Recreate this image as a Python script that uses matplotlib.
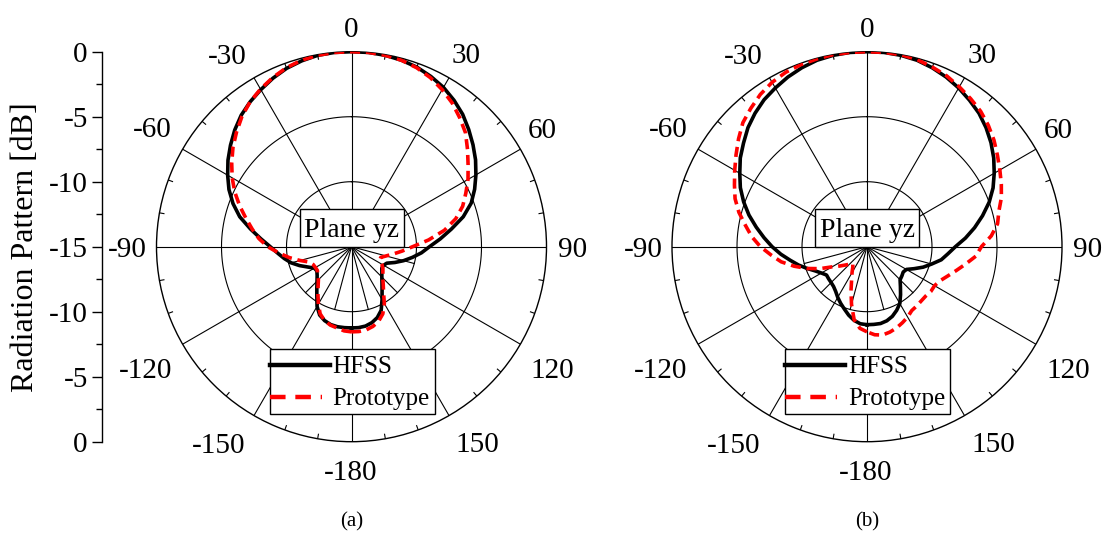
import numpy as np
import matplotlib.pyplot as plt
from matplotlib.patches import Rectangle
from matplotlib.lines import Line2D

plt.rcParams['font.family'] = ['Liberation Serif', 'DejaVu Serif']

# angle grid (deg, clockwise from broadside) shared by all four traces
angles = list(range(-180, 185, 5))

# (a) patterns in dB
hfss_a = [-8.75, -8.75, -8.75, -8.8, -8.95, -9.2, -9.7, -10.35, -10.85, -11.25,
          -11.55, -11.75, -11.7, -11.3, -10.75, -10.2, -9.75, -9.3, -8.75, -8.0,
          -7.1, -6.1, -5.3, -4.6, -4.0, -3.4, -2.85, -2.3, -1.8, -1.4,
          -1.05, -0.7, -0.4, -0.2, -0.05, 0.0, 0.0, 0.0, -0.05, -0.15,
          -0.3, -0.55, -0.85, -1.25, -1.7, -2.25, -2.8, -3.35, -3.95, -4.55,
          -5.2, -6.1, -7.2, -8.15, -9.0, -9.6, -10.25, -10.85, -11.45, -12.0,
          -12.15, -12.15, -11.95, -11.7, -11.35, -10.9, -10.3, -9.6, -9.2, -8.95,
          -8.8, -8.75, -8.75]
proto_a = [-8.45, -8.5, -8.65, -8.75, -8.95, -9.3, -9.9, -10.5, -11.0, -11.4,
           -11.6, -11.8, -11.8, -11.75, -11.55, -10.9, -10.15, -9.4, -8.55, -7.85,
           -7.25, -6.6, -5.85, -5.1, -4.4, -3.75, -3.1, -2.5, -1.9, -1.4,
           -1.0, -0.65, -0.35, -0.15, -0.05, 0.0, 0.0, 0.0, -0.05, -0.15,
           -0.35, -0.65, -1.05, -1.5, -2.05, -2.6, -3.35, -4.05, -4.65, -5.3,
           -5.9, -6.7, -7.75, -9.05, -10.3, -11.1, -11.75, -12.25, -12.6, -12.6,
           -12.3, -12.05, -11.85, -11.6, -11.2, -10.7, -9.95, -9.3, -8.9, -8.65,
           -8.5, -8.45, -8.45]

# (b) patterns in dB
hfss_b = [-9.0, -9.05, -9.25, -9.55, -9.9, -10.2, -10.5, -10.8, -11.0, -11.1,
          -11.15, -11.2, -10.95, -10.6, -10.1, -9.55, -9.0, -8.35, -7.7, -7.05,
          -6.35, -5.6, -4.9, -4.25, -3.7, -3.1, -2.6, -2.05, -1.6, -1.2,
          -0.9, -0.6, -0.35, -0.15, -0.05, 0.0, 0.0, 0.0, -0.05, -0.15,
          -0.35, -0.6, -0.9, -1.25, -1.6, -2.05, -2.55, -3.1, -3.7, -4.3,
          -5.0, -5.8, -6.6, -7.4, -8.2, -8.75, -9.2, -9.85, -10.4, -11.0,
          -11.5, -11.6, -11.5, -11.4, -11.0, -10.5, -9.95, -9.6, -9.3, -9.1,
          -9.0, -9.0, -9.0]
proto_b = [-8.45, -8.7, -9.3, -10.4, -11.4, -12.2, -12.7, -13.1, -13.3, -13.1,
           -12.8, -12.4, -11.9, -11.0, -10.1, -9.2, -8.3, -7.6, -6.8, -6.1,
           -5.5, -4.8, -4.2, -3.75, -3.25, -2.7, -2.1, -1.5, -1.1, -0.7,
           -0.4, -0.2, -0.1, -0.05, 0.0, 0.0, 0.0, 0.0, 0.0, -0.1,
           -0.3, -0.5, -0.8, -1.1, -1.4, -1.8, -2.25, -2.75, -3.2, -3.6,
           -4.0, -4.5, -4.8, -5.4, -6.2, -6.6, -7.3, -7.9, -8.4, -8.8,
           -9.0, -9.0, -9.1, -9.1, -9.05, -9.0, -8.75, -8.55, -8.35, -8.2,
           -8.1, -8.2, -8.45]

tick_text = ['0', '30', '60', '90', '120', '150', '-180', '-150', '-120', '-90', '-60', '-30']
db_ticks = [0, 5, 10, 15, 20, 25, 30]
db_text = ['0', '-5', '-10', '-15', '-10', '-5', '0']
legend_names = ['HFSS', 'Prototype']
panels = [('(a)', hfss_a, proto_a), ('(b)', hfss_b, proto_b)]

W, H = 1110, 533
CY = 246.7
RPX = 195.0
centres = [351.5, 867.0]
# pixel offsets of the angle labels from the plot centre
label_off = [(0, -220), (115, -194), (191, -119), (221, 0), (201, 121), (126, 195),
             (-1, 223), (-133, 196), (-206, 121), (-224, 0), (-199, -120), (-124, -193)]


def fx(x):
    return x / W


def fy(y):
    return 1 - y / H


fig = plt.figure(figsize=(W / 100, H / 100), dpi=100)
th = np.deg2rad(angles)
ring = np.linspace(0, 2 * np.pi, 361)

for cx, (tag, hfss, proto) in zip(centres, panels):
    ax = fig.add_axes([fx(cx - RPX), fy(CY + RPX), 2 * RPX / W, 2 * RPX / H],
                      projection='polar')
    ax.set_theta_zero_location('N')
    ax.set_theta_direction(-1)
    ax.set_rlim(-15, 0)
    ax.set_xticks([])
    ax.set_yticks([])
    ax.grid(False)
    ax.spines['polar'].set_linewidth(1.0)

    # rings and spokes
    for lev in (-10, -5):
        ax.plot(ring, np.full_like(ring, lev), color='black', lw=0.8)
    for a in range(0, 360, 30):
        ax.plot([np.deg2rad(a)] * 2, [-15, 0], color='black', lw=0.8)
    for a in range(105, 270, 30):
        ax.plot([np.deg2rad(a)] * 2, [-15, -10], color='black', lw=0.8)
    for a in range(0, 360, 10):
        if a % 30:
            ax.plot([np.deg2rad(a)] * 2, [-0.35, 0], color='black', lw=0.8)

    ax.plot(th, hfss, color='black', lw=2.6, zorder=3)
    ax.plot(th, proto, color='red', lw=2.6, dashes=(2.8, 1.6), zorder=4)

    # angle labels round the outer ring
    for t, (dx, dy) in zip(tick_text, label_off):
        fig.text(fx(cx + dx), fy(CY + dy + 10), t, fontsize=21, ha='center', va='baseline')

    # "Plane yz" box above the origin
    fig.add_artist(Rectangle((fx(cx - 52), fy(CY)), 104 / W, 38 / H,
                             transform=fig.transFigure, facecolor='white',
                             edgecolor='black', lw=1.0, zorder=5))
    fig.text(fx(cx), fy(CY - 19 + 9), 'Plane yz', fontsize=20, ha='center',
             va='baseline', zorder=6)

    # legend box
    left, top = cx - 82, 349
    fig.add_artist(Rectangle((fx(left), fy(top + 65)), 165 / W, 65 / H,
                             transform=fig.transFigure, facecolor='white',
                             edgecolor='black', lw=1.0, zorder=5))
    fig.add_artist(Line2D([fx(left), fx(left + 60)], [fy(top + 16)] * 2,
                          transform=fig.transFigure, color='black', lw=3.2, zorder=6))
    fig.add_artist(Line2D([fx(left), fx(left + 52)], [fy(top + 48)] * 2,
                          transform=fig.transFigure, color='red', lw=3.2,
                          dashes=(3.5, 2.2), zorder=6))
    for k, name in enumerate(legend_names):
        fig.text(fx(left + 63), fy(top + 16 + 32 * k + 8), name, fontsize=18,
                 ha='left', va='baseline', zorder=6)

    fig.text(fx(cx), fy(522), tag, fontsize=15, ha='center', va='center')

# dB scale on the left
ay = fig.add_axes([fx(101.7), fy(CY + RPX), 0.0005, 2 * RPX / H])
ay.set_ylim(0, 30)
ay.set_xticks([])
ay.set_yticks(db_ticks)
ay.set_yticklabels(db_text)
ay.set_yticks(np.arange(2.5, 30, 5), minor=True)
for s in ('top', 'right', 'bottom'):
    ay.spines[s].set_visible(False)
ay.spines['left'].set_linewidth(1.0)
ay.patch.set_visible(False)
ay.tick_params(axis='y', which='major', length=7, width=1, labelsize=21, pad=3)
ay.tick_params(axis='y', which='minor', length=4, width=1)
fig.text(fx(26), fy(247), 'Radiation Pattern [dB]', fontsize=23, rotation=90,
         ha='center', va='center')

fig.savefig('out.png', dpi=100)
